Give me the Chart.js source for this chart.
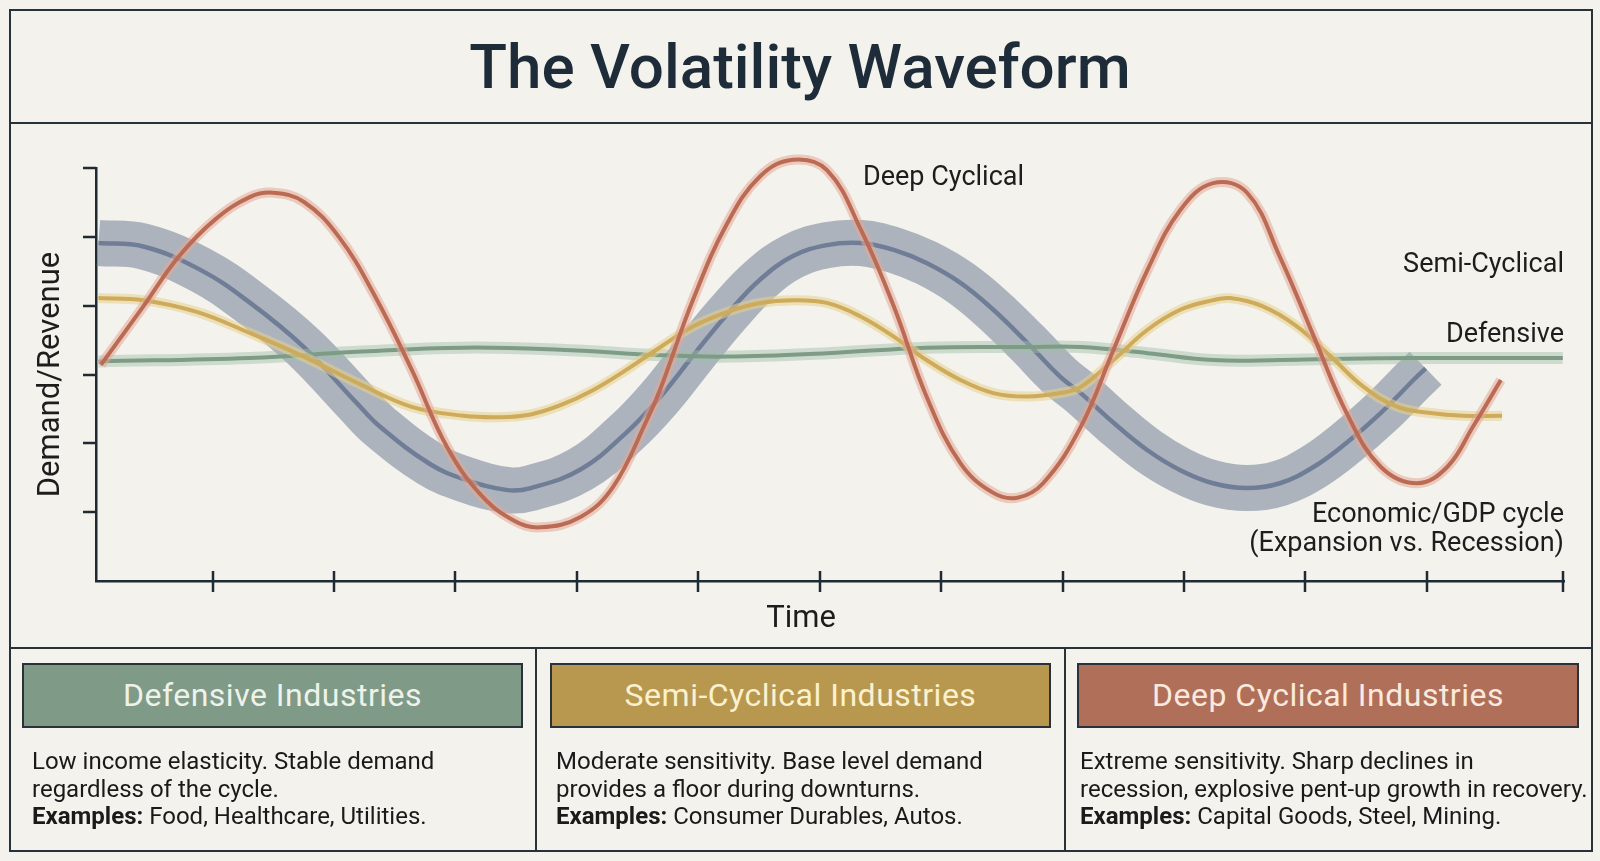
<!DOCTYPE html>
<html>
<head>
<meta charset="utf-8">
<script src="https://cdn.jsdelivr.net/npm/chart.js@4.4.1/dist/chart.umd.min.js"></script>
<style>
  html, body { margin: 0; padding: 0; background: #f3f2ec; }
  body { width: 1600px; height: 861px; position: relative; overflow: hidden;
         font-family: Roboto, "Noto Sans", sans-serif; color: #1c1c1c; }
  #chart { position: absolute; left: 0; top: 0; }
  .abs { position: absolute; }
  .frame { left: 9px; top: 9px; width: 1580px; height: 839px; border: 2px solid #28323b; }
  .hline { height: 2px; background: #28323b; left: 9px; width: 1584px; }
  .vline { width: 2px; background: #28323b; top: 648px; height: 203px; }
  .title { left: 0; top: 0; width: 1600px; height: 133px; line-height: 133px; text-align: center;
           font-size: 62px; font-weight: 500; color: #1e2b38; }
  .lbl { font-size: 27px; line-height: 30px; color: #1d1d1d; white-space: nowrap; }
  .xtitle { left: 701px; width: 200px; top: 602px; text-align: center; font-size: 31px; line-height: 30px; color: #1d1d1d; }
  .head { top: 663px; height: 65px; box-sizing: border-box; border: 2px solid #2a3138;
          text-align: center; line-height: 61px; font-size: 32px; letter-spacing: 0.5px; white-space: nowrap; }
  .body { top: 748px; font-size: 24px; line-height: 27.5px; color: #1a1a1a; white-space: nowrap; }
  .body b { font-weight: 700; }
</style>
</head>
<body>
<canvas id="chart" width="1600" height="861"></canvas>

<div class="abs frame"></div>
<div class="abs hline" style="top:122px"></div>
<div class="abs hline" style="top:647px"></div>
<div class="abs vline" style="left:535px"></div>
<div class="abs vline" style="left:1064px"></div>

<div class="abs title">The Volatility Waveform</div>

<div class="abs lbl" style="left:863px; top:161px;">Deep Cyclical</div>
<div class="abs lbl" style="right:36px; top:248px; text-align:right;">Semi-Cyclical</div>
<div class="abs lbl" style="right:36px; top:318px; text-align:right;">Defensive</div>
<div class="abs lbl" style="right:36px; top:499px; text-align:right; line-height:29px;">Economic/GDP cycle<br>(Expansion vs. Recession)</div>
<div class="abs xtitle" id="xtitle"></div>

<div class="abs head" style="left:22px; width:501px; background:#7f9a87; color:#eef2ea;">Defensive Industries</div>
<div class="abs head" style="left:550px; width:501px; background:#b8974f; color:#fbf1cf;">Semi-Cyclical Industries</div>
<div class="abs head" style="left:1077px; width:502px; background:#b06f59; color:#f9e9df;">Deep Cyclical Industries</div>

<div class="abs body" style="left:32px;">Low income elasticity. Stable demand<br>regardless of the cycle.<br><b>Examples:</b> Food, Healthcare, Utilities.</div>
<div class="abs body" style="left:556px;">Moderate sensitivity. Base level demand<br>provides a floor during downturns.<br><b>Examples:</b> Consumer Durables, Autos.</div>
<div class="abs body" style="left:1080px;">Extreme sensitivity. Sharp declines in<br>recession, explosive pent-up growth in recovery.<br><b>Examples:</b> Capital Goods, Steel, Mining.</div>

<script>
// ---- Data (time units on x, demand/revenue index on y) ----
const gdpX  = [0.06,0.43,0.90,1.31,1.75,2.19,2.38,2.79,3.07,3.43,3.62,4.03,4.41,4.69,4.96,5.24,5.51,5.78,6.06,6.34,6.61,6.88,7.16,7.43,7.71,7.98,8.15,8.42,8.70,8.97,9.24,9.52,9.79,10.07,10.34,10.62,10.89,10.99];
const gdpY  = [4.91,4.86,4.52,4.04,3.40,2.58,2.24,1.70,1.48,1.32,1.35,1.62,2.16,2.68,3.28,3.88,4.38,4.72,4.88,4.91,4.81,4.62,4.33,3.94,3.46,2.97,2.73,2.30,1.90,1.61,1.42,1.35,1.42,1.66,2.01,2.44,2.92,3.09];

const deepX = [0.08,0.43,0.72,1.02,1.31,1.50,1.75,2.04,2.34,2.64,2.93,3.21,3.48,3.70,4.03,4.30,4.58,4.69,4.96,5.24,5.51,5.78,6.06,6.34,6.61,6.88,7.16,7.43,7.63,7.84,8.15,8.42,8.70,8.97,9.24,9.52,9.79,10.07,10.34,10.62,10.92,11.17,11.38,11.61];
const deepY = [3.14,3.99,4.71,5.25,5.58,5.64,5.51,5.00,4.13,3.07,1.95,1.25,0.88,0.78,0.93,1.37,2.35,2.80,4.10,5.20,5.88,6.12,5.97,5.10,3.99,2.68,1.71,1.28,1.21,1.42,2.24,3.36,4.52,5.39,5.78,5.64,4.71,3.55,2.44,1.66,1.42,1.66,2.24,2.92];

const semiX = [0.06,0.43,0.87,1.31,1.75,2.19,2.64,3.07,3.37,3.62,3.86,4.14,4.41,4.69,4.96,5.24,5.51,5.78,6.06,6.34,6.61,6.88,7.16,7.43,7.71,7.98,8.15,8.42,8.70,8.97,9.24,9.38,9.65,9.93,10.21,10.48,10.76,11.03,11.30,11.62];
const semiY = [4.11,4.08,3.91,3.60,3.26,2.88,2.53,2.40,2.38,2.42,2.55,2.78,3.07,3.40,3.70,3.91,4.04,4.08,4.04,3.84,3.55,3.21,2.92,2.73,2.68,2.73,2.82,3.21,3.65,3.94,4.08,4.11,3.99,3.70,3.26,2.82,2.53,2.44,2.40,2.40];

const defX  = [0.06,1.31,2.19,3.07,3.86,4.69,5.24,6.06,6.88,7.71,8.15,8.70,9.24,9.79,10.34,10.89,12.12];
const defY  = [3.19,3.24,3.33,3.39,3.36,3.28,3.26,3.31,3.39,3.40,3.40,3.31,3.21,3.21,3.23,3.24,3.24];

const xTickValues = [1,2,3,4,5,6,7,8,9,10,11];
const yTickValues = [1,2,3,4,5,6];
const X_MIN = 0.04, X_MAX = 12.13, Y_MIN = 0, Y_MAX = 6;
const axisTitles = { x: 'Time', y: 'Demand/Revenue' };
document.getElementById('xtitle').textContent = axisTitles.x;

// ---- Styles ----
const AXIS = '#1f2a33';
const pts = (xs, ys) => xs.map((x, i) => ({ x, y: ys[i] }));
const line = (data, color, width, order) => ({
  data, borderColor: color, borderWidth: width, order,
  pointRadius: 0, pointHoverRadius: 0, fill: false, clip: false,
  tension: 0.4, borderCapStyle: 'butt', borderJoinStyle: 'round'
});

const axisTickPlugin = {
  id: 'axisTicks',
  afterDraw(chart) {
    const { ctx, chartArea, scales } = chart;
    ctx.save();
    ctx.strokeStyle = AXIS;
    ctx.lineWidth = 2.5;
    [...xTickValues, X_MAX].forEach(v => {
      const px = Math.round(scales.x.getPixelForValue(v)) - (v === X_MAX ? 1 : 0);
      ctx.beginPath();
      ctx.moveTo(px, chartArea.bottom - 10);
      ctx.lineTo(px, chartArea.bottom + 11);
      ctx.stroke();
    });
    yTickValues.forEach(v => {
      const py = Math.round(scales.y.getPixelForValue(v));
      ctx.beginPath();
      ctx.moveTo(chartArea.left - 13, py);
      ctx.lineTo(chartArea.left, py);
      ctx.stroke();
    });
    ctx.restore();
  }
};

new Chart(document.getElementById('chart'), {
  type: 'line',
  data: {
    datasets: [
      line(pts(gdpX, gdpY), 'rgba(128,140,160,0.62)', 46, 10),
      line(pts(gdpX, gdpY), '#6f7d97', 4.5, 9),
      line(pts(defX, defY), 'rgba(160,190,170,0.45)', 12, 8),
      line(pts(defX, defY), '#7d9b85', 4, 7),
      line(pts(semiX, semiY), 'rgba(232,208,140,0.55)', 10, 6),
      line(pts(semiX, semiY), '#cdab5a', 4, 5),
      line(pts(deepX, deepY), 'rgba(228,168,150,0.55)', 10, 4),
      line(pts(deepX, deepY), '#bb6a54', 4, 3)
    ]
  },
  options: {
    responsive: false,
    animation: false,
    devicePixelRatio: 1,
    layout: { padding: { left: 0, right: 36, top: 168, bottom: 210 } },
    plugins: { legend: { display: false }, tooltip: { enabled: false } },
    scales: {
      x: {
        type: 'linear', min: X_MIN, max: X_MAX,
        grid: { display: false },
        border: { display: true, color: AXIS, width: 2.5 },
        ticks: { display: false },
        title: { display: false },
        afterFit(s) { s.height = 70; }
      },
      y: {
        type: 'linear', min: Y_MIN, max: Y_MAX,
        grid: { display: false },
        border: { display: true, color: AXIS, width: 2.5 },
        ticks: { display: false },
        title: { display: true, text: axisTitles.y, color: '#1d1d1d',
                 font: { family: 'Roboto', size: 31 }, padding: { top: 33, bottom: 0 } },
        afterFit(s) { s.width = 96; }
      }
    }
  },
  plugins: [axisTickPlugin]
});
</script>
</body>
</html>
